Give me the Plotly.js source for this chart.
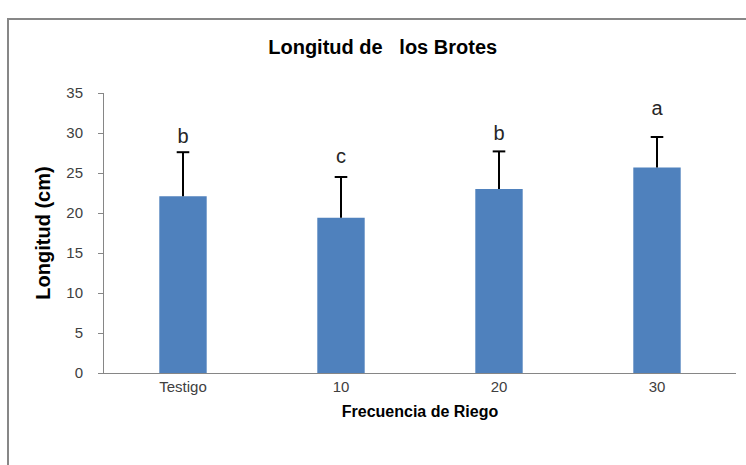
<!DOCTYPE html>
<html>
<head>
<meta charset="utf-8">
<script src="https://cdn.plot.ly/plotly-3.0.1.min.js"></script>
<style>
  body { margin: 0; background: #fff; overflow: hidden; }
  #frame { position: absolute; left: 7px; top: 18px; width: 800px; height: 500px; border: 2px solid #878787; }
  #chart { position: absolute; left: 0; top: 0; width: 746px; height: 465px; }
</style>
</head>
<body>
<div id="frame"></div>
<div id="chart"></div>
<script>
// datos del grafico
const categorias = ['Testigo', '10', '20', '30'];
const longitud = [22.1, 19.4, 23.0, 25.7];
const errorSup = [5.5, 5.1, 4.7, 3.8];
const letras = ['b', 'c', 'b', 'a'];
const alturaLetra = [29.4, 26.9, 29.75, 32.9]; // donde van las letras (cm)

const ceros = errorSup.map(() => 0);
const topes = longitud.map((v, i) => v + errorSup[i]);

const barras = {
  type: 'bar',
  x: categorias,
  y: longitud,
  width: 0.3,
  marker: { color: '#4F81BD' },
  error_y: {
    type: 'data', symmetric: false,
    array: errorSup, arrayminus: ceros,
    color: '#000', thickness: 2, width: 0
  },
  hoverinfo: 'none'
};

// tapa de la barra de error
const tapas = {
  type: 'scatter',
  mode: 'markers',
  x: categorias,
  y: topes,
  marker: { symbol: 'line-ew', size: 9, line: { width: 2, color: '#000' } },
  hoverinfo: 'none'
};

// letras de significancia
const textoLetras = {
  type: 'scatter',
  mode: 'text',
  x: categorias,
  y: alturaLetra,
  text: letras,
  textposition: 'middle center',
  textfont: { family: 'Liberation Sans, Arial, sans-serif', size: 20, color: '#262626' },
  hoverinfo: 'none'
};

const layout = {
  width: 746,
  height: 465,
  margin: { l: 104, r: 10, t: 93, b: 92 },
  paper_bgcolor: 'rgba(0,0,0,0)',
  plot_bgcolor: 'rgba(0,0,0,0)',
  showlegend: false,
  font: { family: 'Liberation Sans, Arial, sans-serif', color: '#404040' },
  title: {
    text: 'Longitud de   los Brotes',
    font: { size: 20, color: '#000', weight: 'bold' },
    xref: 'container', yref: 'container',
    x: 0.513, xanchor: 'center',
    y: 0.9, yanchor: 'middle'
  },
  xaxis: {
    type: 'category',
    range: [-0.5, 3.5],
    showline: true, linecolor: '#868686', linewidth: 1,
    ticks: '', showgrid: false, zeroline: false,
    tickfont: { size: 15, color: '#404040' },
    title: { text: 'Frecuencia de Riego', font: { size: 16, color: '#000', weight: 'bold' }, standoff: 11 }
  },
  yaxis: {
    range: [0, 35],
    dtick: 5,
    showline: true, linecolor: '#868686', linewidth: 1,
    ticks: 'outside', ticklen: 5, tickcolor: '#868686',
    showgrid: false, zeroline: false,
    tickfont: { size: 15, color: '#404040' },
    ticklabelstandoff: 12,
    title: { text: 'Longitud (cm)', font: { size: 20, color: '#000', weight: 'bold' }, standoff: 10 }
  }
};

Plotly.newPlot('chart', [barras, tapas, textoLetras], layout, { displayModeBar: false, staticPlot: true });
</script>
</body>
</html>
